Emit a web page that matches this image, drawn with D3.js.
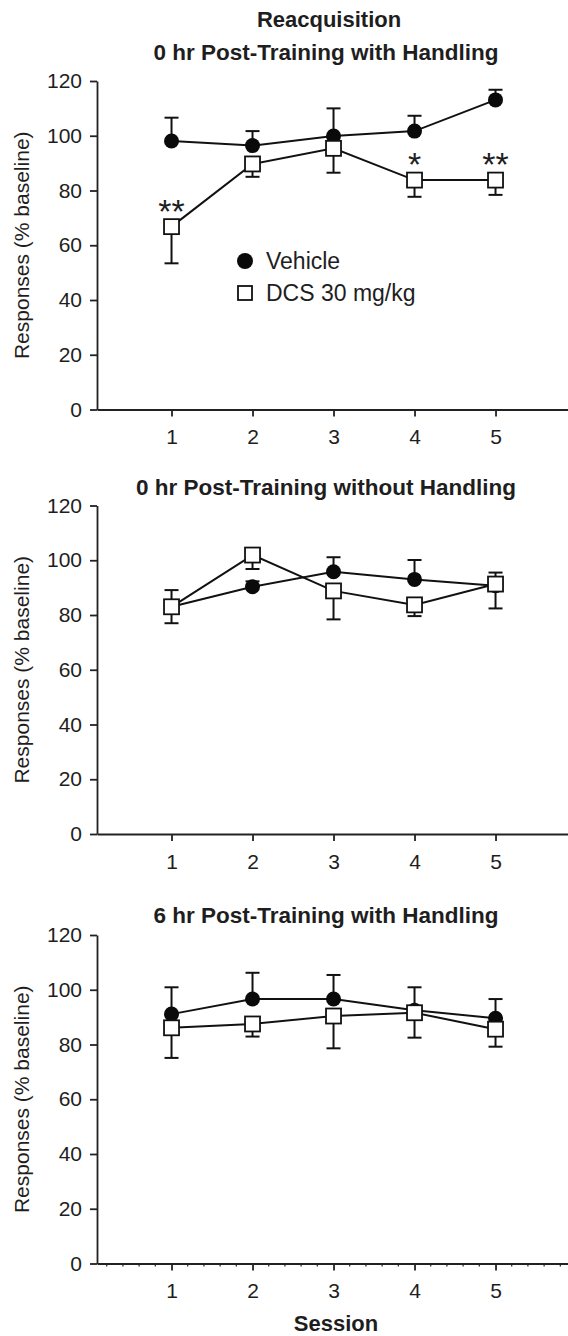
<!DOCTYPE html>
<html>
<head>
<meta charset="utf-8">
<script src="https://cdn.jsdelivr.net/npm/d3@7/dist/d3.min.js"></script>
<style>
  body { margin: 0; background: #fff; }
  text { font-family: "Liberation Sans", Arial, sans-serif; fill: #1e1e1e; }
</style>
</head>
<body>
<div id="graph"></div>
<script>
// data
var sessions = [1, 2, 3, 4, 5];
var yTicks = [0, 20, 40, 60, 80, 100, 120];
var mainTitle = 'Reacquisition';
var panelTitles = ['0 hr Post-Training with Handling',
                   '0 hr Post-Training without Handling',
                   '6 hr Post-Training with Handling'];
var seriesNames = ['Vehicle', 'DCS 30 mg/kg'];

// panel 1 : 0 hr with handling
var vehMean1 = [98.1, 96.4, 99.9, 101.7, 113.1];
var vehErr1  = [8.5, 5.3, 10.1, 5.6, 3.7];
var dcsMean1 = [66.8, 89.7, 95.4, 83.8, 83.8];
var dcsErr1  = [13.4, 4.7, 8.9, 6.1, 5.4];
var stars1   = ['**', '', '', '*', '**'];

// panel 2 : 0 hr without handling
var vehMean2 = [83.0, 90.3, 95.8, 93.0, 90.7];
var vehErr2  = [6.1, 2.0, 5.3, 7.1, 4.8];
var dcsMean2 = [83.0, 101.9, 88.8, 83.7, 91.3];
var dcsErr2  = [6.0, 5.1, 10.4, 4.1, 8.9];

// panel 3 : 6 hr with handling
var vehMean3 = [91.1, 96.6, 96.6, 92.5, 89.6];
var vehErr3  = [9.8, 9.6, 8.8, 8.4, 7.0];
var dcsMean3 = [86.1, 87.5, 90.4, 91.6, 85.6];
var dcsErr3  = [11.0, 4.6, 11.8, 9.1, 6.4];

var chart_width = 568;
var chart_height = 1336;
var axis_x = 97;
var panel_h = 328.5;
var panelBottoms = [409.5, 834, 1263.5];
var titleOffsets = [349.5, 339, 340.5];

var panels = [
  { title: panelTitles[0], veh: vehMean1, vehErr: vehErr1, dcs: dcsMean1, dcsErr: dcsErr1, stars: stars1, legend: true },
  { title: panelTitles[1], veh: vehMean2, vehErr: vehErr2, dcs: dcsMean2, dcsErr: dcsErr2 },
  { title: panelTitles[2], veh: vehMean3, vehErr: vehErr3, dcs: dcsMean3, dcsErr: dcsErr3, minor: true, xlabel: 'Session' }
];

var svg = d3.select('#graph')
  .append('svg')
  .attr('width', chart_width)
  .attr('height', chart_height);

svg.append('text')
  .attr('x', 329)
  .attr('y', 27)
  .attr('text-anchor', 'middle')
  .attr('font-size', 22)
  .attr('font-weight', 'bold')
  .text(mainTitle);

var x_scale = d3.scaleLinear()
  .domain([0.08, 6])
  .range([axis_x, axis_x + 5.92 * 81]);

var toPoints = function (means, errs) {
  return sessions.map(function (s, i) {
    return { s: s, v: means[i], e: errs[i] };
  });
};

panels.forEach(function (p, k) {
  var bottom = panelBottoms[k];
  var y_scale = d3.scaleLinear()
    .domain([0, 120])
    .range([bottom, bottom - panel_h]);

  var g = svg.append('g');

  // panel title
  g.append('text')
    .attr('x', 326)
    .attr('y', bottom - titleOffsets[k])
    .attr('text-anchor', 'middle')
    .attr('font-size', 22.5)
    .attr('font-weight', 'bold')
    .text(p.title);

  // axes
  var y_axis = d3.axisLeft(y_scale)
    .tickValues(yTicks)
    .tickSize(7)
    .tickSizeOuter(0)
    .tickPadding(8);

  var x_axis = d3.axisBottom(x_scale)
    .tickValues(sessions)
    .tickFormat(d3.format('d'))
    .tickSize(7)
    .tickSizeOuter(0)
    .tickPadding(13);

  var ya = g.append('g')
    .attr('transform', 'translate(' + axis_x + ',0)')
    .call(y_axis);

  var xa = g.append('g')
    .attr('transform', 'translate(0,' + bottom + ')')
    .call(x_axis);

  if (p.minor) {
    var minorTicks = d3.range(1, 30).map(function (d) { return d / 5; })
      .filter(function (d) { return d % 1 !== 0; });
    xa.selectAll('.minor')
      .data(minorTicks)
      .enter()
      .append('line')
      .attr('class', 'minor')
      .attr('x1', function (d) { return x_scale(d); })
      .attr('x2', function (d) { return x_scale(d); })
      .attr('y1', 0)
      .attr('y2', 3)
      .attr('stroke', '#222')
      .attr('stroke-width', 1.2);
  }

  [ya, xa].forEach(function (a) {
    a.select('.domain').attr('stroke', '#222').attr('stroke-width', 1.8);
    a.selectAll('.tick line').attr('stroke', '#222').attr('stroke-width', 1.8);
    a.selectAll('.tick text')
      .attr('font-size', 21)
      .attr('font-family', '"Liberation Sans", Arial, sans-serif')
      .attr('fill', '#1e1e1e');
  });

  // y label
  g.append('text')
    .attr('transform', 'translate(29,' + (bottom - panel_h / 2) + ') rotate(-90)')
    .attr('text-anchor', 'middle')
    .attr('font-size', 21)
    .text('Responses (% baseline)');

  if (p.xlabel) {
    g.append('text')
      .attr('x', 336)
      .attr('y', bottom + 67)
      .attr('text-anchor', 'middle')
      .attr('font-size', 22)
      .attr('font-weight', 'bold')
      .text(p.xlabel);
  }

  var line = d3.line()
    .x(function (d) { return x_scale(d.s); })
    .y(function (d) { return y_scale(d.v); });

  var veh = toPoints(p.veh, p.vehErr);
  var dcs = toPoints(p.dcs, p.dcsErr);

  // error bars: vehicle upward, DCS downward
  var drawErr = function (pts, dir) {
    var eg = g.append('g');
    eg.selectAll('.stem')
      .data(pts)
      .enter()
      .append('line')
      .attr('x1', function (d) { return x_scale(d.s); })
      .attr('x2', function (d) { return x_scale(d.s); })
      .attr('y1', function (d) { return y_scale(d.v); })
      .attr('y2', function (d) { return y_scale(d.v + dir * d.e); })
      .attr('stroke', '#111')
      .attr('stroke-width', 2);
    eg.selectAll('.cap')
      .data(pts)
      .enter()
      .append('line')
      .attr('x1', function (d) { return x_scale(d.s) - 7; })
      .attr('x2', function (d) { return x_scale(d.s) + 7; })
      .attr('y1', function (d) { return y_scale(d.v + dir * d.e); })
      .attr('y2', function (d) { return y_scale(d.v + dir * d.e); })
      .attr('stroke', '#111')
      .attr('stroke-width', 2);
  };

  drawErr(veh, 1);
  drawErr(dcs, -1);

  g.append('path')
    .datum(veh)
    .attr('fill', 'none')
    .attr('stroke', '#111')
    .attr('stroke-width', 2)
    .attr('d', line);

  g.append('path')
    .datum(dcs)
    .attr('fill', 'none')
    .attr('stroke', '#111')
    .attr('stroke-width', 2)
    .attr('d', line);

  g.selectAll('.veh')
    .data(veh)
    .enter()
    .append('circle')
    .attr('cx', function (d) { return x_scale(d.s); })
    .attr('cy', function (d) { return y_scale(d.v); })
    .attr('r', 7.5)
    .attr('fill', '#0a0a0a');

  g.selectAll('.dcs')
    .data(dcs)
    .enter()
    .append('rect')
    .attr('x', function (d) { return x_scale(d.s) - 7.5; })
    .attr('y', function (d) { return y_scale(d.v) - 7.5; })
    .attr('width', 15)
    .attr('height', 15)
    .attr('fill', '#fff')
    .attr('stroke', '#111')
    .attr('stroke-width', 1.8);

  if (p.stars) {
    g.selectAll('.star')
      .data(dcs)
      .enter()
      .append('text')
      .attr('x', function (d) { return x_scale(d.s); })
      .attr('y', function (d) { return y_scale(d.v) - 4; })
      .attr('text-anchor', 'middle')
      .attr('font-size', 34)
      .text(function (d, i) { return p.stars[i]; });
  }

  if (p.legend) {
    var lg = g.append('g').attr('transform', 'translate(245,261)');
    lg.append('circle').attr('cx', 0).attr('cy', 0).attr('r', 8).attr('fill', '#0a0a0a');
    lg.append('text').attr('x', 21).attr('y', 8).attr('font-size', 23).text(seriesNames[0]);
    lg.append('rect').attr('x', -7).attr('y', 25).attr('width', 14).attr('height', 14)
      .attr('fill', '#fff').attr('stroke', '#111').attr('stroke-width', 1.8);
    lg.append('text').attr('x', 21).attr('y', 40).attr('font-size', 23).text(seriesNames[1]);
  }
});
</script>
</body>
</html>
